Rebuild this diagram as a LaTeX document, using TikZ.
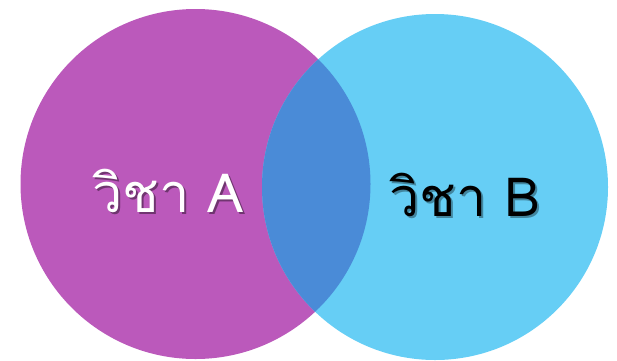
\documentclass[tikz,border=0pt]{standalone}
\usepackage{fontspec}
\usepackage{xcolor}
\newfontfamily\thaifont[Script=Thai]{Loma}
\definecolor{subjA}{HTML}{BB59BB}
\definecolor{subjB}{HTML}{66CEF5}
\definecolor{both}{HTML}{4A8BD7}
% text with a soft drop shadow behind it
\newcommand{\shadowtext}[2]{\makebox[0pt][l]{\hspace{2pt}\raisebox{-2pt}{\textcolor{#1}{#2}}}#2}

\begin{document}
\begin{tikzpicture}[
            x=1pt, y=-1pt,
            label/.style={anchor=base, inner sep=0pt, font=\thaifont\fontsize{54}{58}\selectfont}
        ]
            \useasboundingbox (0,0) rectangle (617,360);
            % the two sets and their overlap
            \fill[subjA] (195.5,184) circle[radius=175];
            \fill[subjB] (435,187) circle[radius=173];
            \begin{scope}
                \clip (195.5,184) circle[radius=175];
                \fill[both] (435,187) circle[radius=173];
            \end{scope}
            % labels
            \node[label, text=white] (txtA) at (168,212) {\shadowtext{subjA!60!black}{วิชา A}};
            \node[label, text=black] (txtB) at (465,216) {\shadowtext{subjB!65!black}{วิชา B}};
        \end{tikzpicture}
\end{document}
